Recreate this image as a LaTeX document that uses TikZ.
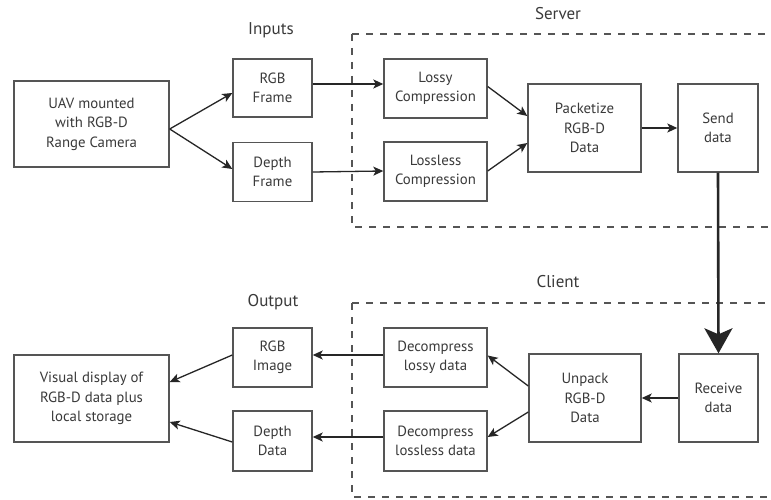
\documentclass[tikz,border=0pt]{standalone}
\usepackage{fontspec}
\setmainfont{PT Sans}
\usetikzlibrary{arrows.meta}
\definecolor{boxline}{HTML}{555555}
\definecolor{inkline}{HTML}{262626}
\definecolor{txt}{HTML}{3A3A3A}
\tikzset{
  stepbox/.style={draw=boxline, line width=1.4pt, fill=white, inner sep=0pt,
    align=center, text=txt, font=\fontsize{14.8}{19.5}\selectfont},
  flow/.style={draw=inkline, line width=1.3pt,
    -{Stealth[length=10pt, width=9pt, inset=2.5pt]}},
  bigflow/.style={draw=inkline, line width=2.6pt,
    -{Stealth[length=25pt, width=28pt, inset=6pt]}},
  zone/.style={draw=boxline, line width=1.2pt, dash pattern=on 7pt off 7pt},
  zonelabel/.style={text=txt, font=\fontsize{17}{20}\selectfont}
}
\begin{document}
\begin{tikzpicture}[x=1pt, y=-1pt]
\useasboundingbox (0,0) rectangle (771,500);
\fill[white] (0,0) rectangle (771,500);

% server and client regions
\draw[zone] (352,34) -- (790,34) (352,34) -- (352,227) -- (790,227);
\draw[zone] (352,303) -- (790,303) (352,303) -- (352,497) -- (790,497);
\node[zonelabel] (lblin)  at (271,30)  {Inputs};
\node[zonelabel] (lblsrv) at (558,14)  {Server};
\node[zonelabel] (lblcli) at (558,282) {Client};
\node[zonelabel] (lblout) at (273,302) {Output};

% upper row: capture and compression
\node[stepbox, minimum width=155pt, minimum height=86pt] (uav) at (91.5,124)
  {UAV mounted\\with RGB-D\\Range Camera};
\node[stepbox, minimum width=79pt, minimum height=58pt] (rgbf) at (272.5,88) {RGB\\Frame};
\node[stepbox, minimum width=79pt, minimum height=59pt] (depf) at (272.5,172) {Depth\\Frame};
\node[stepbox, minimum width=103pt, minimum height=59pt] (lossy) at (435.5,88.5) {Lossy\\Compression};
\node[stepbox, minimum width=103pt, minimum height=59pt] (lossless) at (435.5,171.5) {Lossless\\Compression};
\node[stepbox, minimum width=113pt, minimum height=88pt] (pack) at (584.5,128) {Packetize\\RGB-D\\Data};
\node[stepbox, minimum width=80pt, minimum height=88pt] (send) at (718,128) {Send\\data};

% lower row: reception and decompression
\node[stepbox, minimum width=79pt, minimum height=88pt] (recv) at (718.5,398) {Receive\\data};
\node[stepbox, minimum width=112pt, minimum height=88pt] (unpack) at (585,398) {Unpack\\RGB-D\\Data};
\node[stepbox, minimum width=103pt, minimum height=59pt] (dlossy) at (435.5,357.5) {Decompress\\lossy data};
\node[stepbox, minimum width=103pt, minimum height=60pt] (dlossless) at (435.5,441) {Decompress\\lossless data};
\node[stepbox, minimum width=79pt, minimum height=59pt] (rgbi) at (272.5,357.5) {RGB\\Image};
\node[stepbox, minimum width=79pt, minimum height=60pt] (depd) at (272.5,441) {Depth\\Data};
\node[stepbox, minimum width=155pt, minimum height=87pt] (vis) at (91.5,398.5)
  {Visual display of\\RGB-D data plus\\local storage};

% connectors
\draw[flow] ([yshift=-5pt]uav.east) -- ([yshift=-5pt]rgbf.west);
\draw[flow] ([yshift=-5pt]uav.east) -- ([yshift=3pt]depf.west);
\draw[flow] ([yshift=4pt]rgbf.east) -- ([yshift=4.5pt]lossy.west);
\draw[flow] (depf.east) -- ([yshift=0.5pt]lossless.west);
\draw[flow] ([yshift=2pt]lossy.east) -- ([yshift=12pt]pack.west);
\draw[flow] ([yshift=0.5pt]lossless.east) -- ([yshift=-15pt]pack.west);
\draw[flow] (pack.east) -- (send.west);
\draw[bigflow] (send.south) -- (recv.north);
\draw[flow] (recv.west) -- (unpack.west -| unpack.east);
\draw[flow] ([yshift=12pt]unpack.west) -- ([yshift=2pt]dlossy.east);
\draw[flow] ([yshift=-14pt]unpack.west) -- ([yshift=4pt]dlossless.east);
\draw[flow] ([yshift=2.5pt]dlossy.west) -- ([yshift=2.5pt]rgbi.east);
\draw[flow] ([yshift=4pt]dlossless.west) -- ([yshift=4pt]depd.east);
\draw[flow] ([yshift=2.5pt]rgbi.west) -- ([yshift=16.5pt]vis.east);
\draw[flow] ([yshift=-1pt]depd.west) -- ([yshift=-23.5pt]vis.east);
\end{tikzpicture}
\end{document}
